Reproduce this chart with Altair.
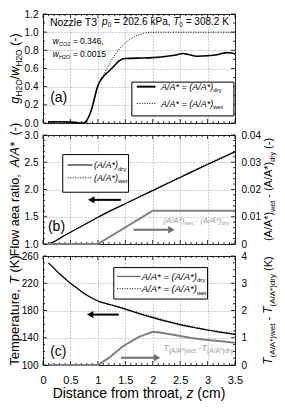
import altair as alt
import pandas as pd

FONT = "Liberation Sans"
W, H = 192, 109

# ---------------- data ----------------
# (a) g_H2O / w_H2O
z_a = [0.10, 0.30, 0.50, 0.60, 0.70, 0.75, 0.80, 0.85, 0.90, 0.95, 1.00, 1.05, 1.10, 1.20, 1.30,
       1.40, 1.50, 1.60, 1.80, 2.00, 2.20, 2.40, 2.55, 2.65, 2.80, 3.00, 3.20, 3.35, 3.45, 3.50]
g_dry = [0.012, 0.013, 0.010, 0.004, 0.000, 0.002, 0.03, 0.09, 0.18, 0.30, 0.41, 0.47, 0.51, 0.57, 0.63,
         0.69, 0.71, 0.712, 0.715, 0.72, 0.73, 0.745, 0.765, 0.755, 0.735, 0.74, 0.755, 0.775, 0.77, 0.755]
z_a_wet = [0.10, 0.30, 0.50, 0.60, 0.70, 0.75, 0.80, 0.85, 0.90, 0.95, 1.00, 1.05, 1.10, 1.20, 1.30,
           1.40, 1.50, 1.60, 1.70, 1.80, 1.90, 2.00, 2.20, 2.60, 3.00, 3.50]
g_wet = [0.012, 0.013, 0.010, 0.004, 0.000, 0.002, 0.03, 0.09, 0.18, 0.30, 0.42, 0.48, 0.53, 0.64, 0.74,
         0.82, 0.88, 0.93, 0.96, 0.98, 0.995, 1.0, 1.0, 1.0, 1.0, 1.0]

# (b) flow area ratio
z_b = [0.07, 0.15, 0.25, 0.40, 0.60, 0.80, 1.00, 1.50, 2.00, 2.50, 3.00, 3.50]
ar_dry = [1.00, 1.02, 1.07, 1.16, 1.27, 1.38, 1.49, 1.74, 1.98, 2.22, 2.46, 2.69]
ar_wet = [1.00, 1.02, 1.07, 1.16, 1.27, 1.38, 1.49, 1.746, 1.992, 2.232, 2.472, 2.702]
z_bd = [0.07, 1.00, 2.00, 3.50]
ar_diff = [0.0, 0.0, 0.0122, 0.0122]

# (c) temperature
z_c = [0.10, 0.20, 0.30, 0.40, 0.50, 0.60, 0.75, 0.90, 1.00, 1.25, 1.50, 1.75, 2.00, 2.25,
       2.50, 2.75, 3.00, 3.25, 3.50]
t_dry = [250, 242, 234, 227, 220, 214, 205, 198, 194, 188, 182, 175.5, 169.5, 164,
         159, 155, 151, 148, 145]
t_wet = [250, 242, 234, 227, 220, 214, 205, 198, 194, 188.35, 182.74, 176.5, 170.7, 165.15,
         160.06, 155.98, 151.92, 148.87, 145.82]
z_cd = [0.10, 1.00, 1.20, 1.45, 1.75, 2.00, 2.10, 2.40, 2.70, 3.00, 3.30, 3.50]
t_diff = [0.0, 0.0, 0.26, 0.68, 1.03, 1.22, 1.20, 1.10, 0.99, 0.92, 0.86, 0.82]

# ticks
X_MAJOR = [0, 0.5, 1, 1.5, 2, 2.5, 3, 3.5]
X_MINOR = [round(i * 0.1, 1) for i in range(36) if i % 5]
A_MAJOR = [0, 0.2, 0.4, 0.6, 0.8, 1.0, 1.2]
A_MINOR = [0.1, 0.3, 0.5, 0.7, 0.9, 1.1]
B_MAJOR = [1.0, 1.5, 2.0, 2.5, 3.0]
B_MINOR = [round(1 + i * 0.1, 1) for i in range(21) if i % 5]
BR_MAJOR = [0, 0.01, 0.02, 0.03, 0.04]
C_MAJOR = [100, 140, 180, 220, 260]
C_MINOR = [v for v in range(100, 261, 10) if (v - 100) % 40]
CR_MAJOR = [0, 1, 2, 3, 4]

GRAY = "#808080"
GRAY_TXT = "#a0a0a0"
GRAY_ARROW = "#707070"

# ---------------- helpers ----------------
CW = {' ': 278, '(': 333, ')': 333, '*': 389, ',': 278, '-': 333, '.': 278, '/': 278, '=': 584,
      'A': 667, 'C': 722, 'D': 722, 'F': 611, 'H': 722, 'K': 667, 'N': 722, 'O': 778, 'P': 667,
      'T': 611, 'a': 556, 'c': 500, 'd': 556, 'e': 556, 'f': 278, 'g': 556, 'h': 556, 'i': 222,
      'k': 500, 'l': 222, 'm': 833, 'n': 556, 'o': 556, 'p': 556, 'r': 333, 's': 500, 't': 278,
      'u': 556, 'w': 722, 'y': 500, 'z': 500}


def tw(s, size):
    return sum(CW.get(ch, 556) for ch in s) * size / 1000.0


def seg_width(segs):
    return sum(tw(t, s) for t, s, _, _ in segs)


ONE = pd.DataFrame({'k': [0]})
AX = {'x': None, 'y': None}   # axes of the current panel (repeated identically on every layer)


def X(field, scale):
    return alt.X(field, scale=scale, axis=AX['x'])


def Y(field, scale):
    return alt.Y(field, scale=scale, axis=AX['y'])


def rich(segs, df, xenc, yenc, angle=0, color='black', base_dy=0.0):
    layers = []
    off = 0.0
    for text, size, italic, shift in segs:
        t = text.strip(' ')
        if not t:
            off += tw(text, size)
            continue
        lead = len(text) - len(text.lstrip(' '))
        trail = len(text) - len(text.rstrip(' '))
        off += lead * 0.278 * size
        kw = dict(text=t, font=FONT, fontSize=size, fontStyle='italic' if italic else 'normal',
                  align='left', baseline='alphabetic', dx=off, dy=shift + base_dy, color=color)
        if angle:
            kw['angle'] = angle
        layers.append(alt.Chart(df).mark_text(**kw).encode(x=xenc, y=yenc))
        off += tw(t, size) + trail * 0.278 * size
    return layers


def text_at(segs, z, v, xs, ys, color='black'):
    df = pd.DataFrame({'x': [z], 'y': [v]})
    main = max(s[1] for s in segs)
    return rich(segs, df, X('x:Q', xs), Y('y:Q', ys), color=color, base_dy=0.35 * main)


def rot_title(segs, x_px):
    total = seg_width(segs)
    return rich(segs, ONE, alt.value(x_px), alt.value(H / 2 + total / 2), angle=270)


def line(z, v, xs, ys, color, width, dash=None, interp='linear', yaxis=None):
    df = pd.DataFrame({'z': z, 'v': v})
    kw = dict(color=color, strokeWidth=width, interpolate=interp)
    if dash:
        kw['strokeDash'] = dash
    yenc = alt.Y('v:Q', scale=ys, axis=yaxis) if yaxis is not None else Y('v:Q', ys)
    return alt.Chart(df).mark_line(**kw).encode(x=X('z:Q', xs), y=yenc)


def ticks(xs, ys, ymaj, ymin):
    out = []
    for vals, L in [(X_MAJOR, 4), (X_MINOR, 2)]:
        base = alt.Chart(pd.DataFrame({'t': vals})).mark_rule(color='black', strokeWidth=0.8)
        out.append(base.encode(x=X('t:Q', xs), y=alt.value(H), y2=alt.value(H - L)))
        out.append(base.encode(x=X('t:Q', xs), y=alt.value(0), y2=alt.value(L)))
    for vals, L in [(ymaj, 4), (ymin, 2)]:
        base = alt.Chart(pd.DataFrame({'t': vals})).mark_rule(color='black', strokeWidth=0.8)
        out.append(base.encode(y=Y('t:Q', ys), x=alt.value(0), x2=alt.value(L)))
        out.append(base.encode(y=Y('t:Q', ys), x=alt.value(W), x2=alt.value(W - L)))
    return out


def box(x1, x2, y1, y2, xs, ys):
    df = pd.DataFrame({'x1': [x1], 'x2': [x2], 'y1': [y1], 'y2': [y2]})
    return alt.Chart(df).mark_rect(fill='white', stroke='black', strokeWidth=1).encode(
        x=X('x1:Q', xs), x2='x2:Q', y=Y('y1:Q', ys), y2='y2:Q')


def seg(x1, x2, y, xs, ys, color, width, dash=None):
    df = pd.DataFrame({'x1': [x1], 'x2': [x2], 'y': [y]})
    kw = dict(color=color, strokeWidth=width)
    if dash:
        kw['strokeDash'] = dash
    return alt.Chart(df).mark_rule(**kw).encode(x=X('x1:Q', xs), x2='x2:Q', y=Y('y:Q', ys))


def arrow(z0, z1, v, xs, ys, color):
    d = 1 if z1 > z0 else -1
    hc = z1 - d * 0.07
    r = seg(z0, hc, v, xs, ys, color, 2)
    head = alt.Chart(pd.DataFrame({'x': [hc], 'y': [v]})).mark_point(
        shape='triangle-right' if d > 0 else 'triangle-left', filled=True, size=55,
        color=color, opacity=1, strokeWidth=0).encode(x=X('x:Q', xs), y=Y('y:Q', ys))
    return [r, head]


xs = alt.Scale(domain=[0, 3.5], nice=False, zero=False)
ax_x_hidden = alt.Axis(values=X_MAJOR, labels=False, ticks=False, domain=False, grid=True, title=None)
ax_x_bottom = alt.Axis(values=X_MAJOR, format='~g', labelFontSize=11, labelPadding=9, labelFlush=False,
                       ticks=False, domain=False, grid=True, title=None)


def yaxis(vals, fmt, orient='left', grid=True, pad=5):
    return alt.Axis(values=vals, format=fmt, orient=orient, grid=grid, labelFontSize=10,
                    labelPadding=pad, ticks=False, domain=False, title=None)


LEG_DOT = [1, 1.5]
TITLE_X = -24
RTITLE_X = W + 37

# ---------------- panel (a) ----------------
ysa = alt.Scale(domain=[0, 1.2], nice=False, zero=False)
AX['x'] = ax_x_hidden
AX['y'] = yaxis(A_MAJOR, '.1f')
la = [
    line(z_a, g_dry, xs, ysa, 'black', 1.6, interp='monotone'),
    line(z_a_wet, g_wet, xs, ysa, 'black', 1, dash=LEG_DOT, interp='monotone'),
]
la += ticks(xs, ysa, A_MAJOR, A_MINOR)
la += text_at([("Nozzle T3", 10.5, False, 0)], 0.126, 1.11, xs, ysa)
la += text_at([("p", 10, True, 0), ("0", 6.5, False, 2.5), (" = 202.6 kPa, ", 10, False, 0),
               ("T", 10, True, 0), ("0", 6.5, False, 2.5), (" = 308.2 K", 10, False, 0)], 1.077, 1.12, xs, ysa)
la += text_at([("w", 8.5, True, 0), ("CO2", 5.5, False, 2), (" = 0.346,", 8.5, False, 0)], 0.18, 0.90, xs, ysa)
la += text_at([("w", 8.5, True, 0), ("H2O", 5.5, False, 2), (" = 0.0015", 8.5, False, 0)], 0.18, 0.76, xs, ysa)
la += text_at([("(a)", 14, False, 0)], 0.13, 0.29, xs, ysa)
la.append(box(1.62, 3.48, 0.078, 0.45, xs, ysa))
la.append(seg(1.71, 2.05, 0.40, xs, ysa, 'black', 2))
la.append(seg(1.71, 2.05, 0.216, xs, ysa, 'black', 1, dash=LEG_DOT))
la += text_at([("A/A* = (A/A*)", 9, True, 0), ("dry", 6, False, 2.5)], 2.15, 0.40, xs, ysa)
la += text_at([("A/A* = (A/A*)", 9, True, 0), ("wet", 6, False, 2.5)], 2.15, 0.216, xs, ysa)
la += rot_title([("g", 12.5, True, 0), ("H2O", 8.5, False, 3), ("/", 12.5, False, 0), ("w", 12.5, True, 0),
                 ("H2O", 8.5, False, 3), (" (-)", 12.5, False, 0)], TITLE_X)
pa = alt.layer(*la).properties(width=W, height=H)

# ---------------- panel (b) ----------------
ysb = alt.Scale(domain=[1, 3], nice=False, zero=False)
ysbr = alt.Scale(domain=[0, 0.04], nice=False, zero=False)
AX['x'] = ax_x_hidden
AX['y'] = yaxis(B_MAJOR, '.1f')
lb = [
    line(z_b, ar_dry, xs, ysb, 'black', 1.2, interp='monotone'),
    line(z_b, ar_wet, xs, ysb, 'black', 1, dash=LEG_DOT, interp='monotone'),
]
lb += ticks(xs, ysb, B_MAJOR, B_MINOR)
lb.append(box(0.36, 1.56, 1.95, 2.64, xs, ysb))
lb.append(seg(0.45, 0.90, 2.45, xs, ysb, 'black', 1))
lb.append(seg(0.45, 0.90, 2.215, xs, ysb, 'black', 1, dash=LEG_DOT))
lb += text_at([("(A/A*)", 9, True, 0), ("dry", 6, False, 2.5)], 0.93, 2.45, xs, ysb)
lb += text_at([("(A/A*)", 9, True, 0), ("wet", 6, False, 2.5)], 0.93, 2.215, xs, ysb)
lb += arrow(1.42, 0.81, 1.81, xs, ysb, 'black')
lb += arrow(1.65, 2.41, 1.26, xs, ysb, GRAY_ARROW)
lb += text_at([("(b)", 14, False, 0)], 0.09, 1.32, xs, ysb)
lb += text_at([("(A/A*)", 8, True, 0), ("wet", 5.5, False, 2), (" - (A/A*)", 8, True, 0), ("dry", 5.5, False, 2)],
              2.19, 1.43, xs, ysb, color=GRAY_TXT)
lb += rot_title([("Flow aea ratio,  ", 12.5, False, 0), ("A/A*", 12.5, True, 0), ("  (-)", 12.5, False, 0)], TITLE_X)
left_b = alt.layer(*lb)
rb = [line(z_bd, ar_diff, xs, ysbr, GRAY, 2,
           yaxis=yaxis(BR_MAJOR, '~g', orient='right', grid=False, pad=6))]
rb += rot_title([("(A/A*)", 11, False, 0), ("wet", 7, False, 2.5), (" - (A/A*)", 11, False, 0),
                 ("dry", 7, False, 2.5), (" (-)", 11, False, 0)], RTITLE_X)
right_b = alt.layer(*rb)
pb = alt.layer(left_b, right_b).resolve_scale(y='independent').properties(width=W, height=H)

# ---------------- panel (c) ----------------
ysc = alt.Scale(domain=[100, 260], nice=False, zero=False)
yscr = alt.Scale(domain=[0, 4], nice=False, zero=False)
AX['x'] = ax_x_bottom
AX['y'] = yaxis(C_MAJOR, 'd')
lc = [
    line(z_c, t_dry, xs, ysc, 'black', 1.2, interp='monotone'),
    line(z_c, t_wet, xs, ysc, 'black', 1, dash=LEG_DOT, interp='monotone'),
]
lc += ticks(xs, ysc, C_MAJOR, C_MINOR)
lc.append(box(1.29, 3.0, 196.8, 243, xs, ysc))
lc.append(seg(1.35, 1.78, 230, xs, ysc, '#6e6e6e', 1.3))
lc.append(seg(1.35, 1.78, 212, xs, ysc, 'black', 1, dash=LEG_DOT))
lc += text_at([("A/A* = (A/A*)", 9.5, True, 0), ("dry", 6, False, 2.5)], 1.80, 230, xs, ysc)
lc += text_at([("A/A* = (A/A*)", 9.5, True, 0), ("wet", 6, False, 2.5)], 1.80, 212, xs, ysc)
lc += arrow(1.38, 0.79, 174, xs, ysc, 'black')
lc += arrow(1.42, 2.15, 110.8, xs, ysc, GRAY_ARROW)
lc += text_at([("(c)", 14, False, 0)], 0.13, 120, xs, ysc)
lc += text_at([("T", 9, True, 0), ("(A/A*)wet", 6.5, False, 2.5), (" -", 9, False, 0), ("T", 9, True, 0),
               ("(A/A*)dry", 6.5, False, 2.5)], 2.19, 125.5, xs, ysc, color=GRAY_TXT)
lc += rot_title([("Temperature, ", 13, False, 0), ("T", 13, True, 0), (" (K)", 13, False, 0)], TITLE_X)
xt = [("Distance from throat, ", 14, False, 0), ("z", 14, True, 0), (" (cm)", 14, False, 0)]
lc += rich(xt, ONE, alt.value(W / 2 - seg_width(xt) / 2), alt.value(H + 33))
left_c = alt.layer(*lc)
rc = [line(z_cd, t_diff, xs, yscr, GRAY, 2,
           yaxis=yaxis(CR_MAJOR, 'd', orient='right', grid=False, pad=6))]
rc += rot_title([("T", 12, True, 0), ("(A/A*)wet", 8, False, 2.5), (" - ", 11, False, 0), ("T", 12, True, 0),
                 ("(A/A*)dry", 8, False, 2.5), (" (K)", 11, False, 0)], RTITLE_X)
right_c = alt.layer(*rc)
pc = alt.layer(left_c, right_c).resolve_scale(y='independent').properties(width=W, height=H)

chart = alt.vconcat(pa, pb, pc, spacing=12, bounds='flush').properties(
    padding=0, background='white'
).configure_view(stroke='black', strokeWidth=1).configure_axis(
    labelFont=FONT, labelColor='black', ticks=False, tickSize=0, domain=False,
    gridColor='#8c8c8c', gridDash=[1, 2], gridWidth=0.8, gridOpacity=1
)

chart.save("out.html", embed_options={"renderer": "svg", "actions": False})
